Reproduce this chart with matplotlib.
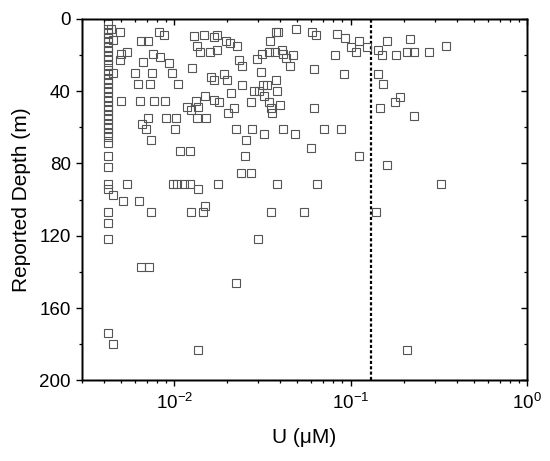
import matplotlib
matplotlib.use("Agg")
import matplotlib.pyplot as plt
from matplotlib.ticker import LogLocator, MultipleLocator, NullFormatter

plt.rcParams['font.family'] = ['Liberation Sans', 'DejaVu Sans']
plt.rcParams['mathtext.fontset'] = 'custom'
plt.rcParams['mathtext.rm'] = 'Liberation Sans'
plt.rcParams['mathtext.it'] = 'Liberation Sans:italic'
plt.rcParams['mathtext.default'] = 'regular'

# Left cluster (values near detection limit)
u_left = [0.0042] * 35
depth_left = [3, 5.5, 8, 10.5, 13, 15.5, 18, 20.5, 23, 25.5, 28, 30.5, 33, 35.5,
              38, 40.5, 43, 45.5, 48, 50.5, 53, 55.5, 58, 60.5, 63, 65.5, 68.7,
              76, 82, 91.3, 94.4, 106.7, 112.8, 122, 173.7]

# Remaining observations (U in uM, reported depth in m)
u_other = [0.0044, 0.00448, 0.0045, 0.00448, 0.00448,
           0.0049, 0.0082, 0.0087, 0.0065, 0.0071, 0.0054, 0.0050, 0.0049,
           0.0076, 0.0083, 0.0093, 0.0067, 0.0060, 0.0075, 0.0097, 0.0127,
           0.0062, 0.0073, 0.0105, 0.0050, 0.0064, 0.0077, 0.0089,
           0.0071, 0.0090, 0.0103, 0.0066, 0.0069, 0.0101,
           0.0130, 0.0148, 0.0134, 0.0140, 0.0150,
           0.0119, 0.0124, 0.0133, 0.0137, 0.0134, 0.0151,
           0.0225, 0.0277, 0.0322, 0.0414,
           0.0168, 0.0175, 0.0196, 0.0206, 0.0226, 0.0159, 0.0174,
           0.0233, 0.0241, 0.0348, 0.0377, 0.0390,
           0.0296, 0.0313, 0.0345, 0.0373, 0.0407, 0.0414, 0.0429, 0.0472,
           0.0452, 0.0309, 0.0493, 0.0608, 0.0641, 0.0621,
           0.0161, 0.0168, 0.0191, 0.0200, 0.0241, 0.0210,
           0.0319, 0.0337, 0.0284, 0.0303, 0.0379, 0.0381, 0.0323, 0.0272,
           0.0345, 0.0353, 0.0357, 0.0396, 0.0168, 0.0179, 0.0203, 0.0218, 0.0621,
           0.0843, 0.0928, 0.1116, 0.1004, 0.108, 0.1234, 0.0814, 0.092,
           0.144, 0.150, 0.162, 0.181, 0.218, 0.209, 0.228, 0.278, 0.346,
           0.144, 0.152, 0.191, 0.179, 0.147, 0.228,
           0.0483, 0.071, 0.0887,
           0.0074, 0.0108, 0.0123, 0.0254, 0.0595, 0.0251, 0.111, 0.161,
           0.0238, 0.0274,
           0.00537, 0.0098, 0.0104, 0.0114, 0.0123, 0.0177, 0.0384, 0.0642, 0.324,
           0.0137, 0.00514, 0.00634, 0.0150,
           0.0074, 0.0124, 0.0145, 0.0355, 0.0544, 0.139,
           0.0300, 0.0065, 0.0072, 0.0225, 0.0137, 0.209]
depth_other = [5.7, 11.7, 30.2, 97.4, 179.8,
               7.4, 7.0, 8.9, 12.0, 12.0, 18.1, 19.4, 22.8,
               19.4, 21.3, 24.3, 24.1, 30.2, 30.2, 30.2, 27.4,
               36.3, 36.3, 36.3, 45.4, 45.4, 45.4, 45.4,
               54.6, 54.6, 54.6, 58.4, 60.7, 60.7,
               9.4, 8.9, 15.0, 18.1, 42.8,
               48.7, 50.2, 45.4, 48.7, 54.6, 54.6,
               60.7, 60.7, 63.9, 60.7,
               9.8, 8.9, 12.1, 13.6, 15.1, 18.3, 17.0,
               22.6, 25.9, 12.1, 7.5, 7.5,
               22.1, 19.6, 18.3, 18.3, 17.0, 19.6, 21.5, 19.8,
               25.9, 29.2, 5.7, 7.0, 8.9, 27.7,
               32.0, 33.8, 30.6, 33.8, 36.6, 40.9,
               36.6, 36.6, 40.0, 40.0, 33.8, 40.0, 42.8, 46.0,
               46.0, 49.4, 52.3, 47.6, 44.7, 46.0, 52.3, 49.4, 49.4,
               8.5, 10.4, 12.3, 15.3, 18.5, 15.3, 20.0, 30.7,
               17.0, 19.8, 12.3, 19.8, 11.0, 18.3, 18.3, 18.3, 15.0,
               30.7, 35.8, 43.3, 46.0, 49.4, 54.0,
               63.9, 60.7, 60.7,
               67.0, 73.0, 73.0, 67.0, 71.3, 76.0, 76.0, 80.6,
               85.0, 85.0,
               91.3, 91.3, 91.3, 91.3, 91.3, 91.3, 91.3, 91.3, 91.3,
               94.4, 100.6, 100.6, 103.7,
               106.7, 106.7, 106.7, 106.7, 106.7, 106.7,
               122.0, 137.2, 137.2, 146.3, 183.0, 183.0]

threshold_u = 0.13
x_limits = (0.003, 1.0)
y_limits = (200, 0)
x_label = "U (\u03bcM)"
y_label = "Reported Depth (m)"

fig = plt.figure(figsize=(5.5, 4.61), dpi=100)
ax = fig.add_axes([0.149, 0.175, 0.809, 0.784])

ax.plot(u_left + u_other, depth_left + depth_other, linestyle='none', marker='s',
        markersize=5.4, markerfacecolor='none', markeredgecolor='#555555',
        markeredgewidth=0.8, zorder=3)
ax.axvline(threshold_u, color='black', linewidth=1.6, linestyle=(0, (1.4, 1.0)), zorder=2)

ax.set_xscale('log')
ax.set_xlim(*x_limits)
ax.set_ylim(*y_limits)
ax.yaxis.set_major_locator(MultipleLocator(40))
ax.yaxis.set_minor_locator(MultipleLocator(20))
ax.xaxis.set_major_locator(LogLocator(base=10))
ax.xaxis.set_minor_locator(LogLocator(base=10, subs=range(2, 10)))
ax.xaxis.set_minor_formatter(NullFormatter())

for s in ax.spines.values():
    s.set_linewidth(1.0)

ax.tick_params(axis='both', which='major', direction='out', length=4, width=1.0,
               labelsize=13.5, pad=4)
ax.tick_params(axis='both', which='minor', direction='out', length=2.2, width=0.9)
ax.tick_params(axis='x', which='major', pad=5)

# Inward ticks on top and right
axt = ax.twiny()
axt.set_xscale('log')
axt.set_xlim(*x_limits)
axt.xaxis.set_major_locator(LogLocator(base=10))
axt.xaxis.set_minor_locator(LogLocator(base=10, subs=range(2, 10)))
axt.tick_params(axis='x', which='major', direction='in', length=4, width=1.0, labeltop=False)
axt.tick_params(axis='x', which='minor', direction='in', length=2.2, width=0.9, labeltop=False)
axr = ax.twinx()
axr.set_ylim(*y_limits)
axr.yaxis.set_major_locator(MultipleLocator(40))
axr.yaxis.set_minor_locator(MultipleLocator(20))
axr.tick_params(axis='y', which='major', direction='in', length=4, width=1.0, labelright=False)
axr.tick_params(axis='y', which='minor', direction='in', length=2.2, width=0.9, labelright=False)
for a in (axt, axr):
    for s in a.spines.values():
        s.set_linewidth(1.0)

ax.set_xlabel(x_label, fontsize=15, labelpad=11)
ax.set_ylabel(y_label, fontsize=15, labelpad=6)

fig.savefig("out.png", dpi=100)
